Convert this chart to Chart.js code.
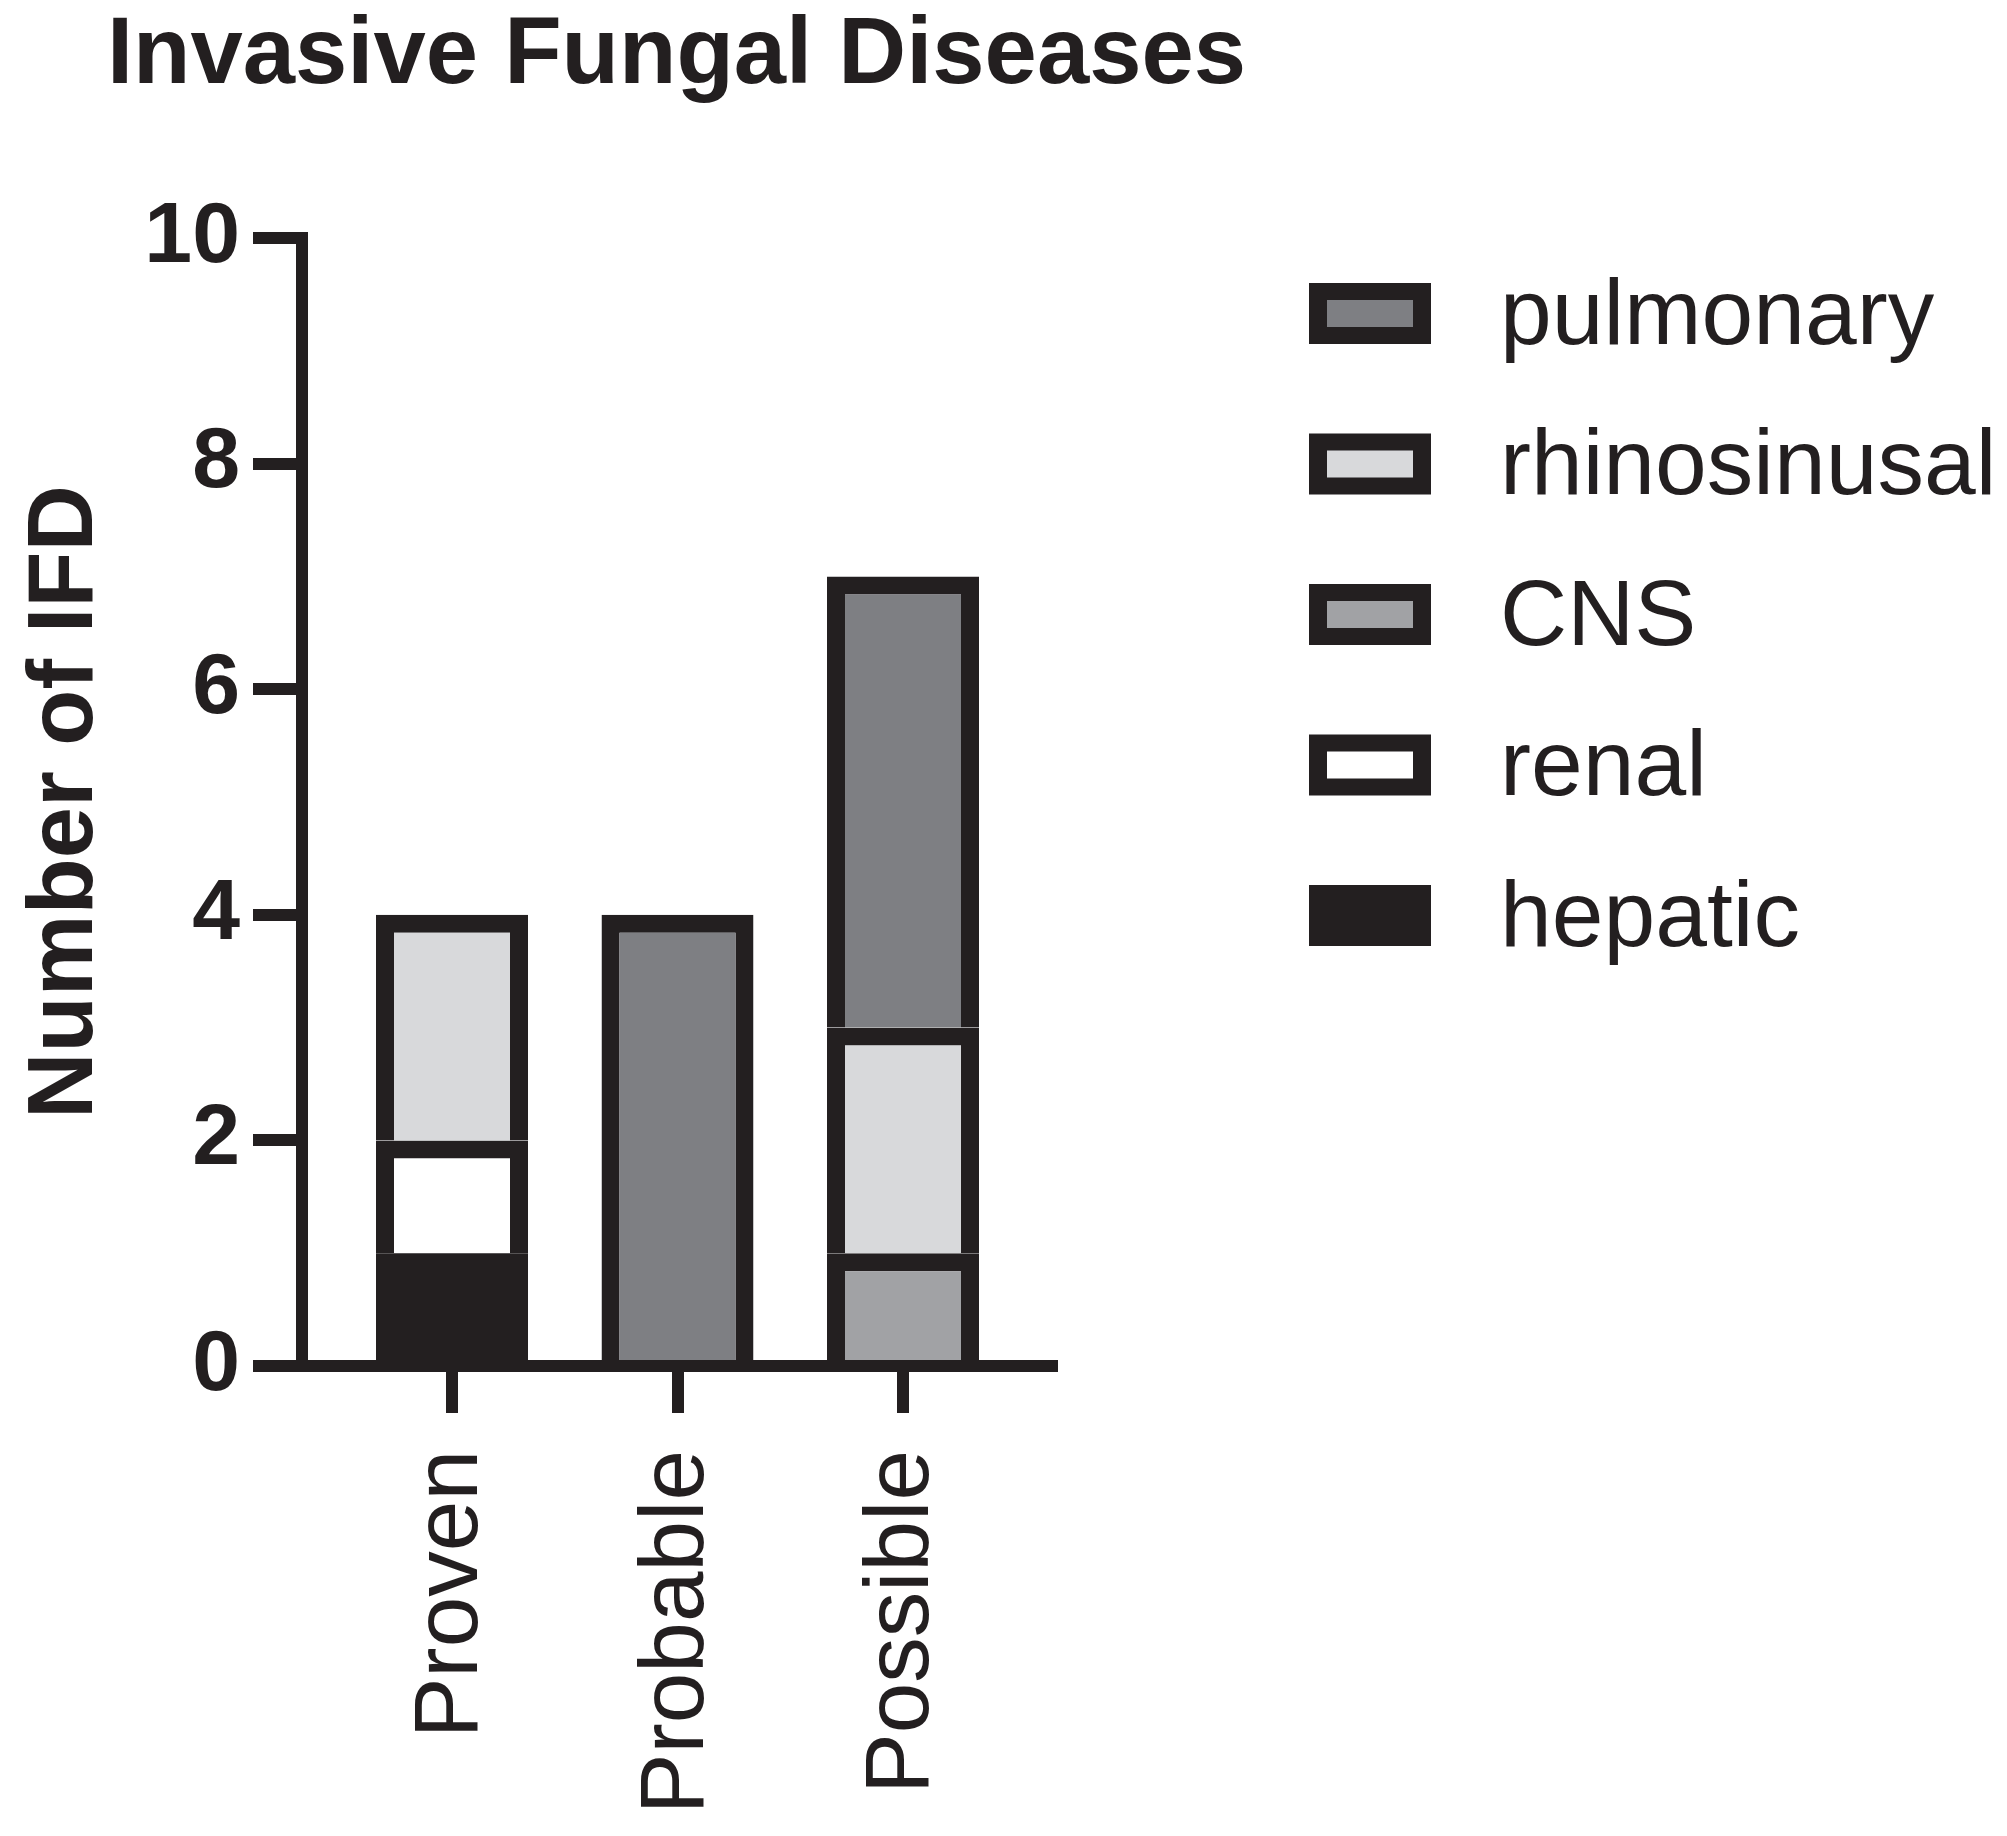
<!DOCTYPE html>
<html><head><meta charset="utf-8">
<script src="https://cdn.jsdelivr.net/npm/chart.js@4.4.1/dist/chart.umd.min.js"></script>
<style>html,body{margin:0;padding:0;background:#fff;} #wrap{width:2007px;height:1836px;}</style>
</head><body><div id="wrap"><canvas id="c" width="2007" height="1836"></canvas></div>
<script>
const chartTitle = 'Invasive Fungal Diseases';
const yAxisTitle = 'Number of IFD';
const categories = ['Proven', 'Probable', 'Possible'];
const seriesNames = ['hepatic', 'renal', 'CNS', 'rhinosinusal', 'pulmonary'];
const hepatic = [1, null, null];
const renal = [1, null, null];
const cns = [null, null, 1];
const rhinosinusal = [2, null, 2];
const pulmonary = [null, 4, 4];
const yTicks = [0, 2, 4, 6, 8, 10];
const seriesValues = [hepatic, renal, cns, rhinosinusal, pulmonary];
const seriesColors = ['#231f20', '#ffffff', '#a1a2a5', '#d8d9db', '#7e7f83'];

const ink = '#231f20';
const fam = '"Liberation Sans", Arial, Helvetica, sans-serif';

const datasets = seriesNames.map((name, k) => ({
  label: name,
  data: seriesValues[k].map((v, i) => v == null ? null : {x: i + 1, y: v}).filter(Boolean),
  backgroundColor: seriesColors[k],
  borderColor: ink,
  borderWidth: seriesColors[k] === ink ? 0 : 18,
  borderSkipped: 'start',
  barThickness: 152,
  inflateAmount: 0
}));

const overlay = {
  id: 'overlay',
  afterDraw(chart) {
    const ctx = chart.ctx;
    ctx.save();
    ctx.fillStyle = ink;
    ctx.textAlign = 'left';
    ctx.textBaseline = 'alphabetic';
    ctx.font = 'bold 94px ' + fam;
    ctx.fillText(chartTitle, 107, 83);
    const ds = chart.data.datasets.slice().reverse();
    ds.forEach((d, i) => {
      const cy = 313.5 + i * 150.5;
      const bx = 1309, bw = 122, bh = 61, by = cy - bh / 2;
      ctx.fillStyle = d.borderColor;
      ctx.fillRect(bx, by, bw, bh);
      ctx.fillStyle = d.backgroundColor;
      ctx.fillRect(bx + 18, by + 17, bw - 36, bh - 34);
      ctx.fillStyle = ink;
      ctx.font = '93px ' + fam;
      ctx.fillText(d.label, 1500, cy + 30);
    });
    ctx.restore();
  }
};

new Chart(document.getElementById('c'), {
  type: 'bar',
  data: {datasets},
  options: {
    responsive: false,
    animation: false,
    devicePixelRatio: 1,
    layout: {padding: {top: 238, right: 955, bottom: 0, left: 0}},
    plugins: {legend: {display: false}, tooltip: {enabled: false}, title: {display: false}},
    scales: {
      x: {
        type: 'linear', stacked: true, min: 0.3348, max: 3.6607, offset: false, z: 1,
        afterBuildTicks: s => { s.ticks = categories.map((c, i) => ({value: i + 1})); },
        afterFit: s => { s.height = 470; },
        grid: {display: true, drawOnChartArea: false, drawTicks: true, tickLength: 47, tickWidth: 12,
               tickColor: ink, lineWidth: 12, color: ink, offset: false},
        border: {display: true, width: 12, color: ink},
        ticks: {autoSkip: false, minRotation: 90, maxRotation: 90, padding: 37, color: ink,
                font: {family: fam, size: 91},
                callback: v => categories[v - 1] ?? ''}
      },
      y: {
        type: 'linear', stacked: true, min: 0, max: 10, z: 1,
        afterBuildTicks: s => { s.ticks = yTicks.map(v => ({value: v})); },
        afterFit: s => { s.width = 302; },
        grid: {display: true, drawOnChartArea: false, drawTicks: true, tickLength: 49, tickWidth: 12,
               tickColor: ink, lineWidth: 12, color: ink},
        border: {display: true, width: 12, color: ink},
        ticks: {padding: 13, color: ink, font: {family: fam, size: 86, weight: 'bold'}},
        title: {display: true, text: yAxisTitle, color: ink,
                font: {family: fam, size: 92, weight: 'bold'}, padding: {top: 11, bottom: 0}}
      }
    }
  },
  plugins: [overlay]
});
</script>
</body></html>
